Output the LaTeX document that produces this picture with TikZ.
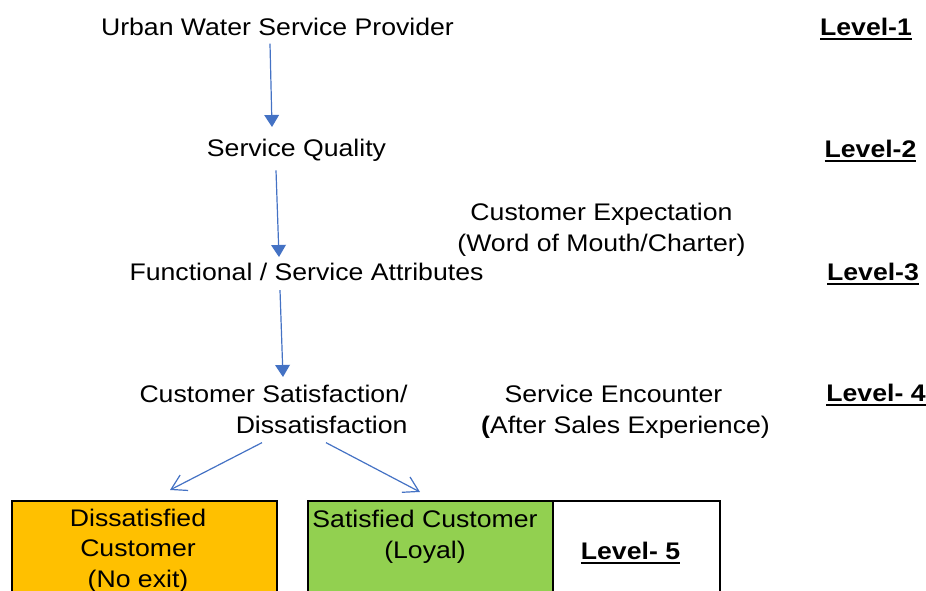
\documentclass[tikz,border=0pt]{standalone}
\usepackage{fontspec}
\setmainfont[FakeStretch=1.11]{Liberation Sans}
\usepackage{tikz}
\usetikzlibrary{arrows.meta, positioning, calc}
\definecolor{linkblue}{HTML}{4472C4}
\definecolor{cellorange}{HTML}{FFC000}
\definecolor{cellgreen}{HTML}{92D050}
\newcommand{\ulevel}[1]{\setbox0\hbox{#1}\rlap{\rule[-3.5pt]{\wd0}{1.4pt}}\box0}

\begin{document}
\begin{tikzpicture}[x=0.75pt, y=-0.75pt, txt/.style={inner sep=0pt,
      anchor=north, font=\fontsize{18pt}{23.25pt}\selectfont}, lvl/.style={txt,
      font=\fontsize{18pt}{23.25pt}\selectfont\bfseries}, flow/.style={draw=linkblue,
      line width=0.9pt, -{Triangle[length=9pt, width=11pt]}},
    split/.style={draw=linkblue, line width=0.9pt, -{Straight Barb[length=11pt,
      width=13pt]}}, cell/.style={draw, line width=1.5pt, minimum height=74.25pt,
      inner sep=0pt}, ]

    \useasboundingbox (0,0) rectangle (926,591);
    \clip (0,0) rectangle (926,591);

    % Chain of texts
    \node[txt] (provider) at (277.5,18) {Urban Water Service Provider};
    \node[txt] (quality) at (296.5,139) {Service Quality};
    \node[txt] (functional) at (306.5,263) {Functional / Service Attributes};
    \node[txt, align=right] (custsat) at (273.5,385) {Customer Satisfaction/\\Dissatisfaction};

    % Side texts
    \node[txt, align=center] (expect) at (601.5,203) {Customer Expectation\\(Word of Mouth/Charter)};
    \node[txt, align=center] (encounter) at (625.5,385) {Service Encounter\hspace*{18pt}\\{\bfseries (}After Sales Experience)};

    % Levels
    \node[lvl] (lvA) at (866,18) {\ulevel{Level-1}};
    \node[lvl] (lvB) at (870.5,140) {\ulevel{Level-2}};
    \node[lvl] (lvC) at (873,263) {\ulevel{Level-3}};
    \node[lvl] (lvD) at (876,384) {\ulevel{Level- 4}};

    % Cells at the bottom
    \node[cell, fill=cellorange, minimum width=198.75pt] (dis) at (144.5,550.5) {};
    \node[cell, fill=cellgreen, minimum width=183.75pt] (sat) at (430.5,550.5) {};
    \node[cell, fill=white, minimum width=125.25pt] (lvbox) at (636.5,550.5) {};

    % Labels inside cells
    \node[txt, align=center] (distext) at ($(dis.north)+(-6.5,9)$) {Dissatisfied\\[-0.6pt]Customer\\[-0.6pt](No exit)};
    \node[txt, align=center] (sattext) at ($(sat.north)+(-5.5,9.5)$) {Satisfied Customer\\(Loyal)};
    \node[lvl] (lvE) at ($(lvbox.north)+(-6,42)$) {\ulevel{Level- 5}};

    % Arrows down the chain
    \draw[flow] ($(provider.south)+(-7.5,7.5)$) -- ($(quality.north)+(-24.5,-12)$);
    \draw[flow] ($(quality.south)+(-20.5,8.5)$) -- ($(functional.north)+(-27.5,-6)$);
    \draw[flow] ($(functional.south)+(-26.5,9)$) -- ($(custsat.north)+(9.5,-8)$);

    % Split into the two outcomes
    \draw[split] ($(custsat.south)+(-11.5,8.5)$) -- ($(dis.north)+(25.5,-10)$);
    \draw[split] ($(custsat.south)+(52.5,8.5)$) -- ($(sat.north)+(-10.5,-8)$);

\end{tikzpicture}
\end{document}
